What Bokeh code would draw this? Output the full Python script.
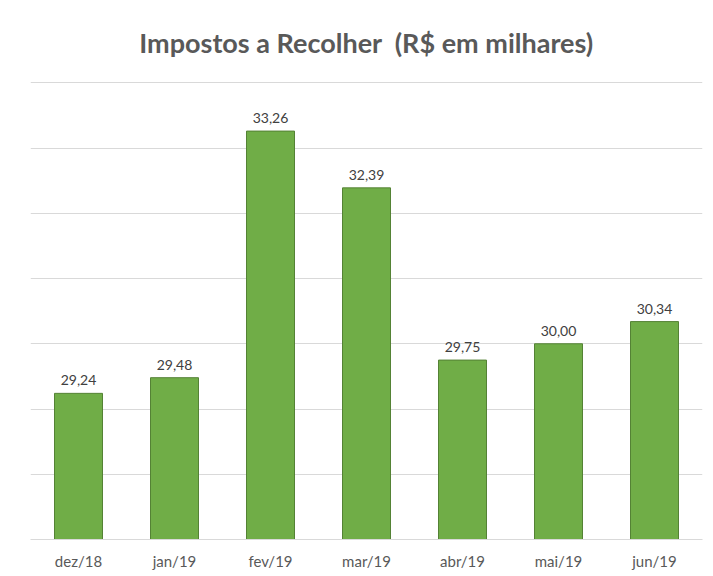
from bokeh.plotting import figure
from bokeh.models import ColumnDataSource, LabelSet, Range1d, FixedTicker, BoxAnnotation
from bokeh.core.properties import value
from bokeh.embed import file_html
from bokeh.resources import INLINE

months = ["dez/18", "jan/19", "fev/19", "mar/19", "abr/19", "mai/19", "jun/19"]
values = [29.24, 29.48, 33.26, 32.39, 29.75, 30.00, 30.34]
y_ticks = [27, 28, 29, 30, 31, 32, 33, 34]

labels = [f"{v:.2f}".replace(".", ",") for v in values]
src = ColumnDataSource(data=dict(m=months, v=values, t=labels))

p = figure(x_range=months, y_range=Range1d(27, 34.02), width=705, height=572,
           output_backend="svg", toolbar_location=None,
           min_border_left=30, min_border_right=3, min_border_top=81, min_border_bottom=31)

# chart-area border (outer frame of the chart box)
p.add_layout(BoxAnnotation(left=9, right=900, top=12, bottom=900,
                           left_units="canvas", right_units="canvas",
                           top_units="canvas", bottom_units="canvas",
                           fill_alpha=0, line_color="#d9d9d9", line_width=1,
                           level="underlay"))

p.vbar(x="m", top="v", bottom=27, width=0.5, source=src,
       fill_color="#70AD47", line_color="#548235", line_width=1)

p.add_layout(LabelSet(x="m", y="v", text="t", source=src, y_offset=8,
                      text_align="center", text_baseline="bottom",
                      text_font_size="14px", text_color="#404040",
                      text_font=value("Lato")))

p.title.text = "Impostos a Recolher \u00a0(R$ em milhares)"
p.title.text_font = "Lato"
p.title.text_font_size = "27px"
p.title.text_font_style = "bold"
p.title.text_color = "#595959"
p.title.align = "center"
p.title.offset = -6
p.title.standoff = 45

p.yaxis.visible = False
p.ygrid.ticker = FixedTicker(ticks=y_ticks)
p.ygrid.grid_line_color = "#d9d9d9"
p.xgrid.grid_line_color = None
p.outline_line_color = None

p.xaxis.axis_line_color = "#d9d9d9"
p.xaxis.major_tick_line_color = None
p.xaxis.minor_tick_line_color = None
p.xaxis.major_tick_out = 0
p.xaxis.major_tick_in = 0
p.xaxis.major_label_standoff = 12
p.xaxis.major_label_text_font = "Lato"
p.xaxis.major_label_text_font_size = "15px"
p.xaxis.major_label_text_color = "#595959"

open("out.html", "w").write(file_html(p, INLINE))
